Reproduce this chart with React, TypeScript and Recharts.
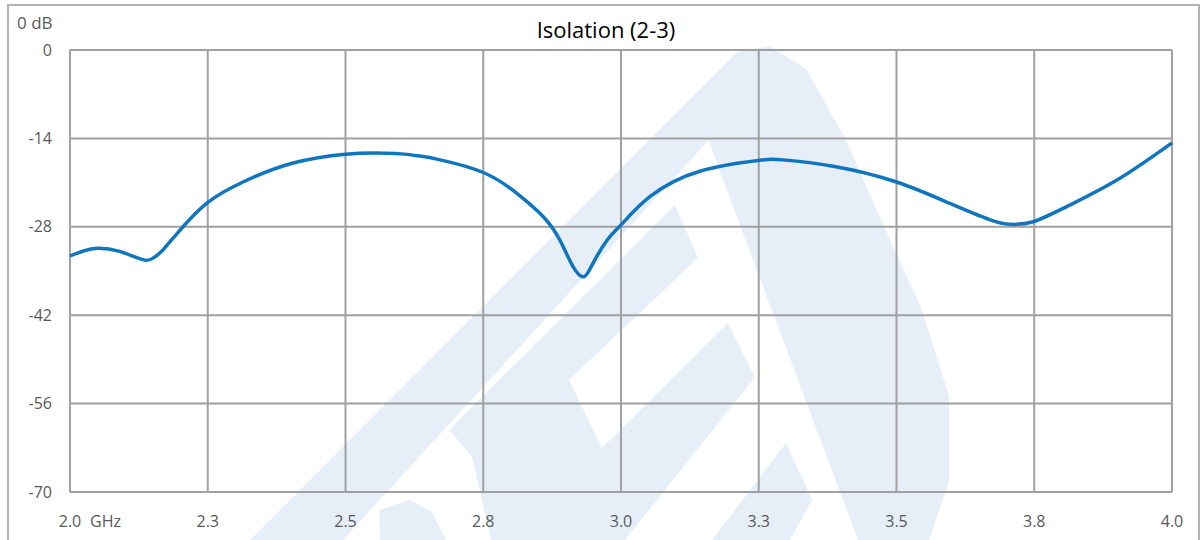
import { LineChart, Line, XAxis, YAxis, CartesianGrid } from 'recharts'

const freqGHz = [
  2.0, 2.025, 2.05, 2.09, 2.132, 2.15, 2.165, 2.183, 2.205, 2.249, 2.314, 2.405, 2.5, 2.557,
  2.6, 2.635, 2.672, 2.75, 2.811, 2.859, 2.889, 2.913, 2.933, 2.949, 2.975, 3.0, 3.053, 3.143,
  3.249, 3.294, 3.385, 3.5, 3.597, 3.67, 3.706, 3.748, 3.809, 3.9, 4.0,
]
const isolationDb = [
  -32.6, -31.8, -31.4, -31.9, -33.2, -33.0, -32.0, -30.2, -28.0, -24.2, -20.9, -17.9, -16.5,
  -16.3, -16.45, -16.8, -17.4, -19.4, -22.7, -26.4, -30.1, -34.3, -35.9, -33.8, -30.1, -27.7,
  -23.2, -19.2, -17.5, -17.4, -18.4, -20.9, -24.3, -26.9, -27.6, -27.2, -24.8, -20.6, -14.7,
]
const xTicks = [2.0, 2.25, 2.5, 2.75, 3.0, 3.25, 3.5, 3.75, 4.0]
const xTickLabels = ['2.0', '2.3', '2.5', '2.8', '3.0', '3.3', '3.5', '3.8', '4.0']
const yTicks = [0, -14, -28, -42, -56, -70]

const data = freqGHz.map((f, i) => ({ f, db: isolationDb[i] }))

const FONT = '"Open Sans", sans-serif'
const TEXT = '#595959'
const GRID = '#A0A0A0'

function XTick({ x, y, payload }: any) {
  const i = xTicks.indexOf(payload.value)
  return (
    <g>
      <text x={x} y={y + 35} textAnchor="middle" fill={TEXT} fontSize={16} fontFamily={FONT}>
        {xTickLabels[i]}
      </text>
      {i === 0 && (
        <text x={x + 20} y={y + 35} textAnchor="start" fill={TEXT} fontSize={16} fontFamily={FONT}>
          GHz
        </text>
      )}
    </g>
  )
}

// faint logo watermark behind the plot
function Watermark() {
  const c = '#E6EFF8'
  return (
    <svg width={1204} height={540} style={{ position: 'absolute', left: 0, top: 0 }}>
      <polygon
        fill={c}
        points="250,540 737,52 770,46 806,69 845,138 883,224 922,310 949,396 949,482 929,540 858,540 713,153 709,140 343,540"
      />
      <polygon
        fill={c}
        points="675,205 698,258 569,380 602,448 728,323 755,377 625,540 491,540 472,457 449,430"
      />
      <polygon fill={c} points="786,443 812,500 790,540 712,540" />
      <polygon fill={c} points="380,540 380,510 410,500 432,512 446,540" />
      <rect x={8} y={5} width={1191} height={600} fill="none" stroke="#B4B4B4" strokeWidth={2} />
    </svg>
  )
}

export default function App() {
  return (
    <div style={{ position: 'absolute', left: 0, top: 0, width: 1204, height: 540, overflow: 'hidden', background: '#fff' }}>
      <Watermark />
      <div style={{ position: 'absolute', left: 0, top: 0 }}>
        <LineChart width={1204} height={540} data={data} margin={{ top: 50, right: 32, left: 0, bottom: 0 }}>
          <CartesianGrid stroke={GRID} strokeWidth={2} />
          <XAxis
            dataKey="f"
            type="number"
            domain={[2, 4]}
            ticks={xTicks}
            height={48}
            axisLine={false}
            tickLine={false}
            tickSize={0}
            tickMargin={0}
            tick={<XTick />}
            interval={0}
          />
          <YAxis
            type="number"
            domain={[-70, 0]}
            ticks={yTicks}
            width={70}
            axisLine={false}
            tickLine={false}
            tickSize={0}
            tickMargin={18}
            interval={0}
            tick={{ fill: TEXT, fontSize: 16, fontFamily: FONT }}
          />
          <Line
            dataKey="db"
            type="natural"
            stroke="#0F75BF"
            strokeWidth={3.5}
            dot={false}
            isAnimationActive={false}
          />
        </LineChart>
      </div>
      <svg width={1204} height={540} style={{ position: 'absolute', left: 0, top: 0, pointerEvents: 'none' }}>
        <text x={606} y={38} textAnchor="middle" fill="#000" fontSize={22} fontFamily={FONT}>
          Isolation (2-3)
        </text>
        <text x={17} y={29} fill={TEXT} fontSize={17} fontFamily={FONT}>
          0 dB
        </text>
      </svg>
    </div>
  )
}
